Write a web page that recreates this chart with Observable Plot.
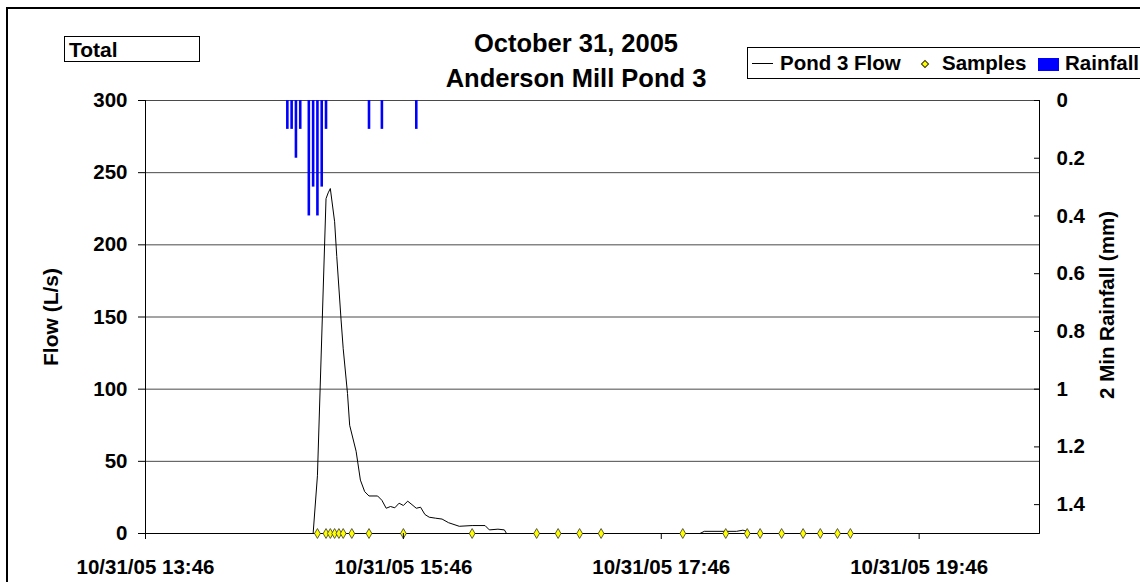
<!DOCTYPE html>
<html><head><meta charset="utf-8">
<script src="https://cdn.jsdelivr.net/npm/d3@7"></script>
<script src="https://cdn.jsdelivr.net/npm/@observablehq/plot@0.6"></script>
<style>
html,body{margin:0;padding:0;background:#fff;width:1140px;height:582px;overflow:hidden;}
body{position:relative;font-family:"Liberation Sans",Arial,Helvetica,sans-serif;font-weight:bold;color:#000;}
.abs{position:absolute;white-space:nowrap;}
</style></head><body>
<div id="chart" class="abs" style="left:0;top:0;"></div>
<div class="abs" style="left:6px;top:7px;width:1300px;height:700px;border:2px solid #000;"></div>
<div class="abs" style="left:64px;top:36px;width:136px;height:26px;box-sizing:border-box;border:1.5px solid #000;font-size:21px;line-height:23px;padding-left:4px;padding-top:1px;">Total</div>
<div class="abs" style="left:376px;top:26px;width:400px;text-align:center;font-size:25.5px;line-height:35px;">October 31, 2005<br>Anderson Mill Pond 3</div>
<div class="abs" style="left:747px;top:47px;width:420px;height:32px;box-sizing:border-box;border:1.5px solid #000;font-size:20.5px;">
  <div class="abs" style="left:4px;top:14.5px;width:21px;height:1px;background:#000;"></div>
  <div class="abs" style="left:32px;top:3px;line-height:24px;">Pond 3 Flow</div>
  <div class="abs" style="left:174px;top:12.5px;width:4px;height:4px;background:#ff0;border:0.8px solid #333;transform:rotate(45deg);"></div>
  <div class="abs" style="left:194px;top:3px;line-height:24px;">Samples</div>
  <div class="abs" style="left:290px;top:9.5px;width:21px;height:13px;background:#0000ff;"></div>
  <div class="abs" style="left:317px;top:3px;line-height:24px;">Rainfall</div>
</div>
<div class="abs" style="left:-49px;top:305px;width:200px;text-align:center;font-size:21px;line-height:24px;transform:rotate(-90deg);">Flow (L/s)</div>
<div class="abs" style="left:957px;top:293px;width:300px;text-align:center;font-size:20.5px;line-height:24px;transform:rotate(-90deg);">2 Min Rainfall (mm)</div>
<script>
// ---------- data ----------
const dayPrefix = "10/31/05 ";
const flowTimes = ["13:46","15:04","15:06","15:10","15:11","15:12","15:14","15:15","15:17","15:18","15:20","15:21","15:24","15:26","15:28","15:30","15:34","15:36","15:38","15:40","15:42","15:44","15:46","15:48","15:50","15:52","15:54","15:56","15:58","16:01","16:04","16:07","16:12","16:18","16:24","16:26","16:30","16:33","16:34","18:04","18:06","18:21","18:24","18:26","18:27","20:42"];
const flowValues = [0,0,40,232,236,239,216,192,148,128,97,75,57,37,29,26,26,23,17.5,18.7,17.8,21,19.4,22.4,20,17.5,18.2,13.2,11.3,10.6,10,7.5,5,5.5,5.5,2.5,3,2.5,0,0,1.5,1.5,2.3,1.5,0,0];
const sampleTimes = ["15:06","15:10","15:12","15:14","15:16","15:18","15:22","15:30","15:46","16:18","16:48","16:58","17:08","17:18","17:56","18:16","18:26","18:32","18:42","18:52","19:00","19:08","19:14"];
const rainTimes = ["14:52","14:54","14:56","14:58","15:02","15:04","15:06","15:08","15:10","15:30","15:36","15:52"];
const rainValues = [0.1,0.1,0.2,0.1,0.4,0.3,0.4,0.3,0.1,0.1,0.1,0.1];
const flowTickLabels = ["0","50","100","150","200","250","300"];
const rainTickLabels = ["0","0.2","0.4","0.6","0.8","1","1.2","1.4"];
const xTickLabels = ["10/31/05 13:46","10/31/05 15:46","10/31/05 17:46","10/31/05 19:46"];
const xDomainTimes = ["13:46","20:42"];
const flowDomain = [0, 300];
const rainDomain = [0, 1.5];

// ---------- build ----------
const fmt = "%m/%d/%y %H:%M";
const parse = d3.utcParse(fmt);
const t = s => parse(dayPrefix + s);
const flow = flowTimes.map((s, i) => ({time: t(s), flow: flowValues[i]}));
const samples = sampleTimes.map(s => ({time: t(s), flow: 0}));
const rain = rainTimes.map((s, i) => ({time: t(s), rain: rainValues[i]}));
const flowTicks = flowTickLabels.map(Number);
const rainTicks = rainTickLabels.map(Number);
const xTicks = xTickLabels.map(parse);
const xDomain = xDomainTimes.map(t);
// rainfall axis is reversed and mapped onto the flow scale
const rainToFlow = r => flowDomain[1] * (1 - r / rainDomain[1]);
const flowToRain = v => Math.round(rainDomain[1] * (1 - v / flowDomain[1]) * 100) / 100;

const chart = Plot.plot({
  width: 1140, height: 582,
  marginLeft: 145, marginRight: 101, marginTop: 100, marginBottom: 49,
  style: {background: "transparent", fontFamily: "Liberation Sans, Arial, sans-serif", fontWeight: "bold", fontSize: "20.5px", color: "#000", overflow: "visible"},
  x: {type: "utc", domain: xDomain},
  y: {domain: flowDomain},
  marks: [
    Plot.gridY(flowTicks.filter(v => v > 0), {stroke: "#4a4a4a", strokeOpacity: 1}),
    Plot.ruleX(rain, {x: "time", y1: () => rainToFlow(0), y2: d => rainToFlow(d.rain), stroke: "#0000ff", strokeWidth: 2.6}),
    Plot.ruleY([0], {stroke: "#000"}),
    Plot.ruleX(xDomain, {stroke: "#000"}),
    Plot.line(flow, {x: "time", y: "flow", stroke: "#000", strokeWidth: 1}),
    Plot.dot(samples, {x: "time", y: "flow", symbol: "diamond", r: 3, fill: "#ffff00", stroke: "#333", strokeWidth: 0.8}),
    Plot.axisY(flowTicks, {anchor: "left", tickSize: 7, tickPadding: 11, label: null}),
    Plot.axisY(rainTicks.map(rainToFlow), {anchor: "right", tickSize: 6, dx: -6, tickFormat: () => "", label: null}),
    Plot.axisY(rainTicks.map(rainToFlow), {anchor: "right", tickSize: 0, tickPadding: 17, tickFormat: v => d3.format("~g")(flowToRain(v)), label: null}),
    Plot.axisX(xTicks, {anchor: "bottom", tickSize: 6, tickPadding: 20, tickFormat: d3.utcFormat(fmt), label: null})
  ]
});
document.getElementById("chart").appendChild(chart);
</script>
</body></html>
